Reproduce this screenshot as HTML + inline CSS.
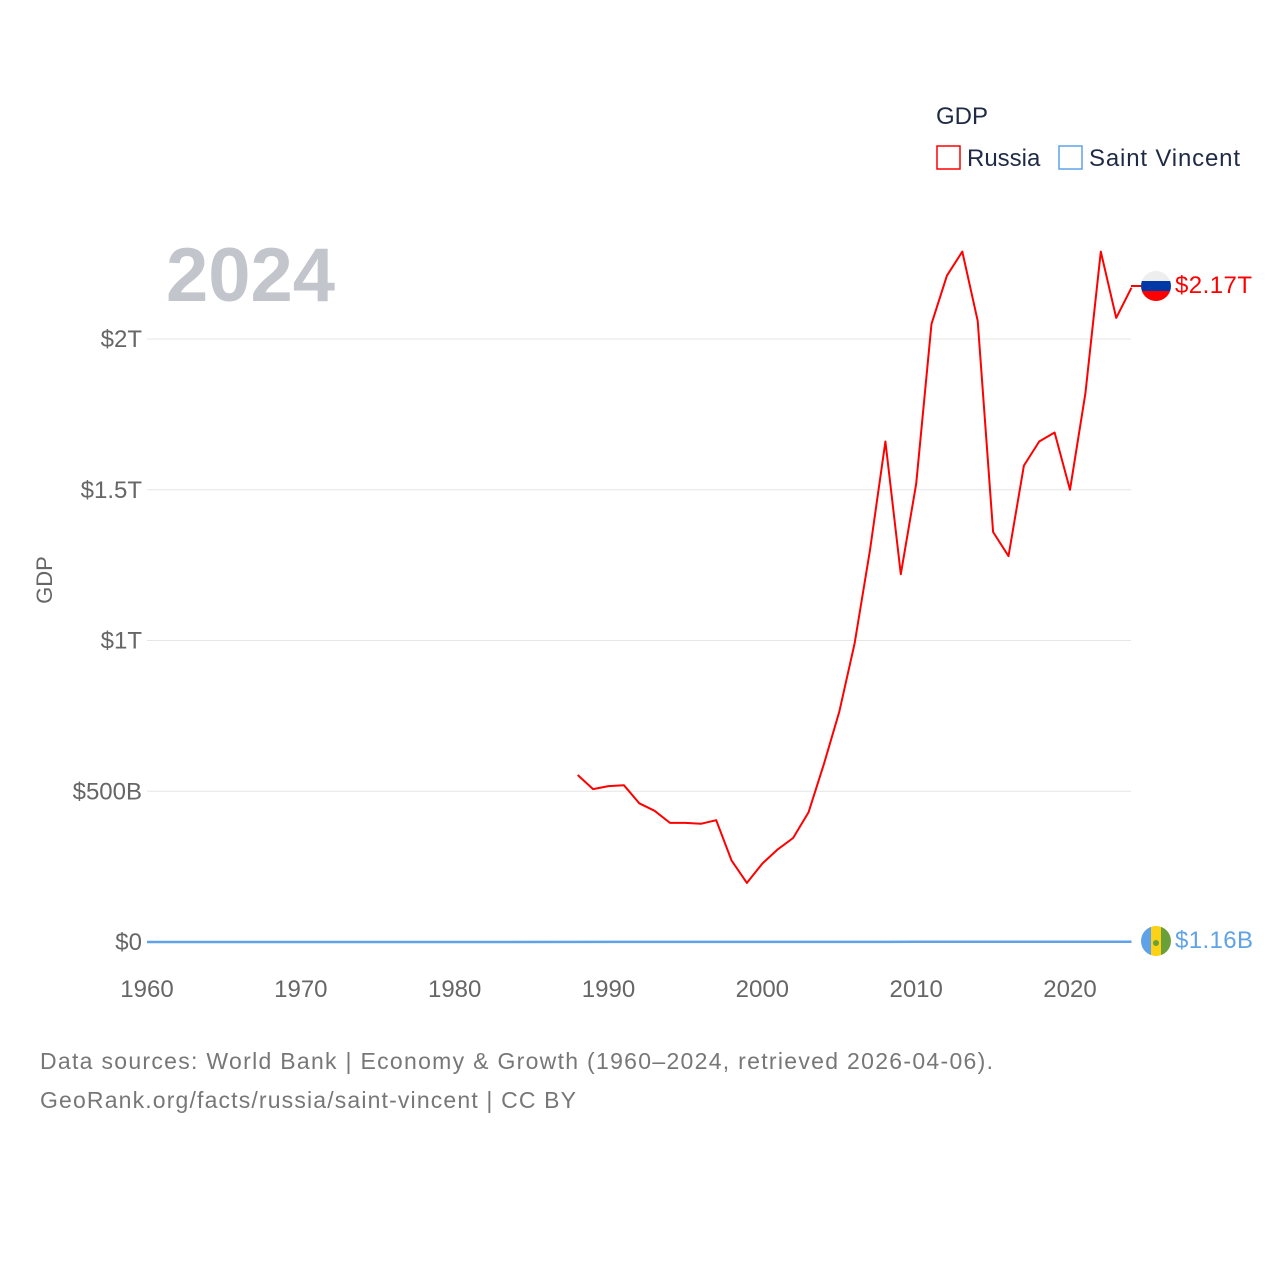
<!DOCTYPE html>
<html><head><meta charset="utf-8"><style>
body{margin:0;background:#fff}
svg text{font-family:"Liberation Sans",sans-serif}
</style></head><body>
<svg id="chart" width="1280" height="1280" xmlns="http://www.w3.org/2000/svg">
<text x="936" y="124" font-size="24" fill="#1f2a44">GDP</text>
<rect x="937" y="146" width="23" height="23" fill="none" stroke="#f00" stroke-width="1.5"/>
<text x="967" y="166" font-size="24" fill="#1f2a44">Russia</text>
<rect x="1059" y="146" width="23" height="23" fill="none" stroke="#5fa2e8" stroke-width="1.5"/>
<text x="1089" y="166" font-size="24" fill="#1f2a44" textLength="151">Saint Vincent</text>
<text x="166" y="301" font-size="76" font-weight="bold" fill="#c2c6cc">2024</text>
<text x="52" y="580" font-size="22" fill="#666" transform="rotate(-90 52 580)" text-anchor="middle">GDP</text>
<g id="grid"></g><g id="xt"></g><g id="series"></g>
<line x1="1131" y1="286" x2="1141" y2="286" stroke="#f00" stroke-width="2"/>
<g>
<clipPath id="c1"><circle cx="1156" cy="286" r="15"/></clipPath>
<g clip-path="url(#c1)"><rect x="1140" y="270" width="32" height="11" fill="#eee"/><rect x="1140" y="281" width="32" height="10" fill="#0039a6"/><rect x="1140" y="291" width="32" height="11" fill="#f00"/></g>
<text x="1175" y="293" font-size="24" fill="#f00" textLength="77">$2.17T</text></g>
<g>
<clipPath id="c2"><circle cx="1156" cy="941" r="15"/></clipPath>
<g clip-path="url(#c2)"><rect x="1140" y="925" width="11" height="32" fill="#5fa2e8"/><rect x="1151" y="925" width="10" height="32" fill="#fcd116"/><rect x="1161" y="925" width="11" height="32" fill="#6aa03a"/><circle cx="1156" cy="943" r="3" fill="#6aa03a"/></g>
<text x="1175" y="948" font-size="24" fill="#5fa2e8" textLength="78">$1.16B</text></g>
<text x="40" y="1069" font-size="23" fill="#777" textLength="953">Data sources: World Bank | Economy &amp; Growth (1960–2024, retrieved 2026-04-06).</text>
<text x="40" y="1108" font-size="23" fill="#777" textLength="536">GeoRank.org/facts/russia/saint-vincent | CC BY</text>
</svg>
<script>
const yTickVals=[0,0.5,1,1.5,2];
const yTickLabels=["$0","$500B","$1T","$1.5T","$2T"];
const xTickVals=[1960,1970,1980,1990,2000,2010,2020];
const russiaYears=[1988,1989,1990,1991,1992,1993,1994,1995,1996,1997,1998,1999,2000,2001,2002,2003,2004,2005,2006,2007,2008,2009,2010,2011,2012,2013,2014,2015,2016,2017,2018,2019,2020,2021,2022,2023,2024];
const russiaGDP=[0.554,0.507,0.517,0.52,0.46,0.435,0.395,0.395,0.392,0.404,0.27,0.196,0.26,0.307,0.345,0.43,0.59,0.764,0.99,1.30,1.66,1.22,1.52,2.05,2.21,2.29,2.06,1.36,1.28,1.58,1.66,1.69,1.50,1.82,2.29,2.07,2.17];
const svcYears=[1960,1970,1980,1990,2000,2010,2020,2024];
const svcGDP=[0.00001,0.00002,0.00005,0.00021,0.00040,0.00068,0.00087,0.00116];
const NS='http://www.w3.org/2000/svg';
const X=y=>147+(y-1960)*(923/60), Y=v=>942-v*301.5;
const grid=document.getElementById('grid'),xt=document.getElementById('xt'),ser=document.getElementById('series');
yTickVals.forEach((v,i)=>{
 const l=document.createElementNS(NS,'line');
 l.setAttribute('x1',147);l.setAttribute('x2',1131);l.setAttribute('y1',Y(v));l.setAttribute('y2',Y(v));
 l.setAttribute('stroke',v===0?'#999':'#e6e6e6');l.setAttribute('stroke-width',1);
 
 
 grid.appendChild(l);
 const t=document.createElementNS(NS,'text');
 t.setAttribute('x',142);t.setAttribute('y',Y(v)+8);t.setAttribute('text-anchor','end');t.setAttribute('font-size',24);t.setAttribute('fill','#666');
 t.textContent=yTickLabels[i];
 
 
 grid.appendChild(t);
});
xTickVals.forEach(v=>{
 const t=document.createElementNS(NS,'text');
 t.setAttribute('x',X(v));t.setAttribute('y',997);t.setAttribute('text-anchor','middle');t.setAttribute('font-size',24);t.setAttribute('fill','#666');
 t.textContent=v;
 
 
 xt.appendChild(t);
});
function line(xs,vs,color,name,w){
 const p=document.createElementNS(NS,'path');
 p.setAttribute('d',xs.map((x,i)=>(i?'L':'M')+X(x).toFixed(1)+','+Y(vs[i]).toFixed(1)).join(''));
 p.setAttribute('fill','none');p.setAttribute('stroke',color);p.setAttribute('stroke-width',w);p.setAttribute('stroke-linejoin','round');
 
 
 ser.appendChild(p);
}
line(svcYears,svcGDP,'#5fa2e8','saint-vincent-line',2.5);
line(russiaYears,russiaGDP,'#f00','russia-line',2);
</script>
</body></html>
